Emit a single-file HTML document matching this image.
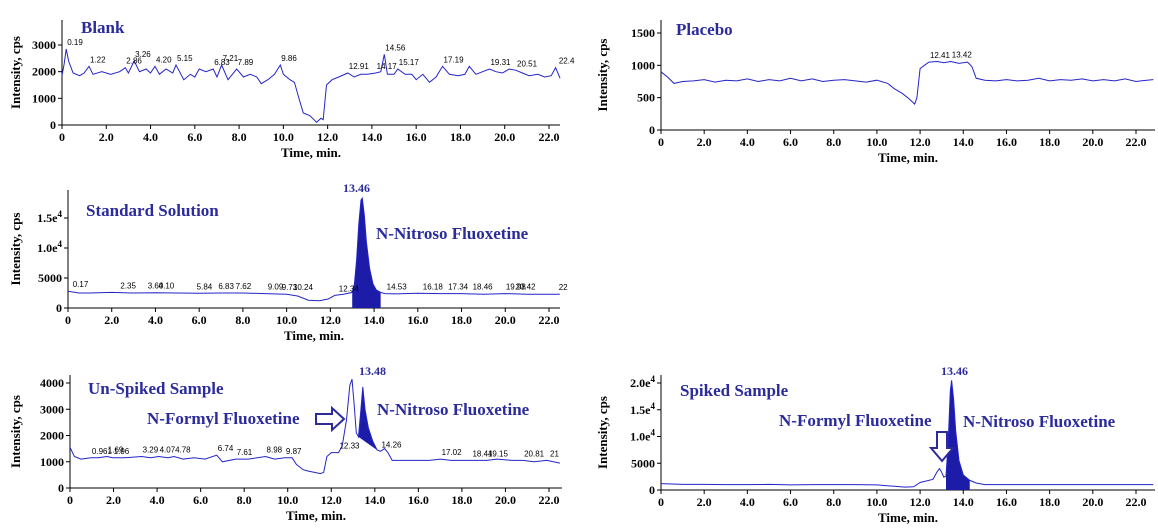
<!DOCTYPE html>
<html><head><meta charset="utf-8"><style>
body{margin:0;background:#fff;}
svg{display:block;}
.tk{font-family:"Liberation Serif",serif;font-weight:bold;font-size:12px;fill:#000;}
.ttl{font-family:"Liberation Serif",serif;font-weight:bold;font-size:13px;fill:#000;}
.nm{font-family:"Liberation Serif",serif;font-weight:bold;font-size:17px;fill:#2b2b9c;}
.pk{font-family:"Liberation Sans",sans-serif;font-size:8px;fill:#000;}
.big{font-family:"Liberation Serif",serif;font-weight:bold;font-size:12px;fill:#2b2b9c;}
</style></head><body>
<svg id="fig" width="1158" height="530" viewBox="0 0 1158 530" xmlns="http://www.w3.org/2000/svg"></svg>
<script>
// ---- data ----
const blankT=[0,0.1,0.19,0.3,0.5,0.8,1.0,1.22,1.4,1.8,2.2,2.6,2.86,3.0,3.26,3.5,3.8,4.0,4.2,4.4,4.7,5.0,5.15,5.5,5.8,6.0,6.2,6.5,6.83,7.0,7.21,7.5,7.89,8.2,8.5,8.8,9.0,9.3,9.6,9.86,10.0,10.3,10.5,10.7,10.9,11.2,11.5,11.7,11.8,11.95,12.2,12.5,12.91,13.2,13.5,13.8,14.17,14.4,14.56,14.7,15.0,15.17,15.5,15.8,16.0,16.3,16.6,16.9,17.19,17.5,17.9,18.2,18.4,18.7,19.0,19.31,19.6,19.9,20.2,20.51,20.8,21.1,21.5,21.8,22.1,22.3,22.5];
const blankV=[1850,2300,2850,2400,1950,1850,1950,2200,1900,2000,1900,2000,2150,1950,2400,2000,2100,1950,2200,1900,2100,1950,2250,1700,1900,1800,2100,2000,2100,1800,2250,1700,2100,1800,1900,1800,1550,1700,1900,2250,1900,1700,1600,1000,450,350,100,250,200,1500,1700,1800,1950,1800,1900,1900,1950,2000,2650,1900,1900,2100,1900,1900,1700,1900,1600,1800,2200,1900,1850,1900,2200,1900,2000,2100,2000,1950,2100,2050,1950,1850,1900,1800,1850,2150,1750];
const blankLblT=[0.19,1.22,2.86,3.26,4.20,5.15,6.83,7.21,7.89,9.86,12.91,14.17,14.56,15.17,17.19,19.31,20.51,22.4];
const blankLbl=["0.19","1.22","2.86","3.26","4.20","5.15","6.83","7.21","7.89","9.86","12.91","14.17","14.56","15.17","17.19","19.31","20.51","22.4"];

const placT=[0,0.3,0.6,1.0,1.5,2.0,2.5,3.0,3.5,4.0,4.5,5.0,5.5,6.0,6.5,7.0,7.5,8.0,8.5,9.0,9.5,10.0,10.5,10.8,11.2,11.5,11.75,11.85,12.0,12.2,12.41,12.8,13.1,13.42,13.8,14.2,14.4,14.6,15.0,15.5,16.0,16.5,17.0,17.5,18.0,18.5,19.0,19.5,20.0,20.5,21.0,21.5,22.0,22.5,22.8];
const placV=[900,820,720,750,760,780,740,770,760,790,750,780,760,800,760,790,750,770,780,760,740,770,720,640,560,480,400,500,950,1000,1050,1060,1040,1060,1030,1050,980,800,770,760,780,760,770,800,760,780,770,790,760,780,760,790,750,770,780];
const placLblT=[12.41,13.42];
const placLbl=["12.41","13.42"];

const stdT=[0,0.5,1,2,3,4,5,6,7,8,9,10,10.5,11,11.5,11.9,12.2,12.6,13.0,13.1,13.2,13.3,13.4,13.46,13.55,13.65,13.8,13.95,14.1,14.3,14.5,15,16,17,18,19,20,21,22,22.5];
const stdV=[2800,2500,2500,2600,2500,2550,2500,2450,2500,2500,2400,2300,2000,1300,1200,1500,2100,2300,2600,4000,8000,14000,18000,18300,15500,11000,6500,4000,3000,2600,2400,2350,2450,2400,2400,2300,2400,2300,2300,2300];
const stdFill=[13.0,14.3];
const stdLblT=[0.17,2.35,3.60,4.10,5.84,6.83,7.62,9.09,9.73,10.24,12.34,14.53,16.18,17.34,18.46,19.98,20.42,22.4];
const stdLbl=["0.17","2.35","3.60","4.10","5.84","6.83","7.62","9.09","9.73","10.24","12.34","14.53","16.18","17.34","18.46","19.98","20.42","22"];

const unT=[0,0.2,0.5,0.96,1.3,1.69,1.96,2.5,3.29,3.7,4.07,4.5,4.78,5.2,5.7,6.2,6.74,7.0,7.61,8.2,8.98,9.4,9.87,10.2,10.4,10.7,10.9,11.2,11.5,11.65,11.8,12.0,12.33,12.5,12.7,12.85,12.95,13.05,13.15,13.25,13.35,13.45,13.55,13.7,13.9,14.1,14.26,14.45,14.6,14.8,15.5,16.5,17.02,17.5,18.44,19.15,19.6,20.3,20.81,21.3,21.9,22.5];
const unV=[1550,1200,1100,1150,1150,1200,1150,1150,1200,1150,1200,1150,1200,1100,1150,1100,1250,1000,1100,1100,1200,1100,1150,1150,900,700,650,600,550,600,1200,1350,1350,1600,2600,3900,4150,3200,2100,1950,2900,3850,3000,2300,1800,1450,1400,1500,1350,1050,1050,1050,1100,1050,1050,1050,1100,1050,1050,1000,1050,950];
const unFill=[13.25,14.1];
const unLblT=[0.961,1.69,1.96,3.29,4.07,4.78,6.74,7.61,8.98,9.87,12.33,14.26,17.02,18.44,19.15,20.81,22.0];
const unLbl=["0.961","1.69","1.96","3.29","4.07","4.78","6.74","7.61","8.98","9.87","12.33","14.26","17.02","18.44","19.15","20.81","21"];

const spT=[0,1,2,3,4,5,6,7,8,9,10,10.8,11.3,11.7,12.0,12.6,12.8,12.9,13.0,13.1,13.2,13.3,13.4,13.46,13.55,13.65,13.8,14.0,14.3,14.6,15,16,17,18,19,20,21,22,22.8];
const spV=[1200,1050,1050,1000,1000,1050,950,1000,1000,1000,950,700,550,600,1400,2000,3500,4000,3300,2400,2600,9000,18500,20500,17000,11000,5500,2800,1800,1300,1000,1000,1000,1000,1000,1000,1000,1000,1000];
const spFill=[13.2,14.3];

// ---- helpers ----
const NS="http://www.w3.org/2000/svg";
const svg=document.getElementById('fig');
function mk(tag,attrs,parent,txt){const e=document.createElementNS(NS,tag);for(const k in attrs)e.setAttribute(k,attrs[k]);if(txt!==undefined)e.textContent=txt;(parent||svg).appendChild(e);return e;}

function panel(c){
  const g=mk('g',{});
  
  
  const X=t=>c.x0+(t/22)*(c.x22-c.x0);
  const Y=v=>c.y0-(v/c.yRef)*(c.y0-c.yRefPx);
  const ax=mk('path',{d:`M${c.x0} ${c.top} V${c.y0} H${c.right}`,stroke:'#000','stroke-width':1,fill:'none'},g);
  
  
  for(let t=0;t<=22;t+=2){
    const x=X(t);
    mk('line',{x1:x,y1:c.y0,x2:x,y2:c.y0+4,stroke:'#000'},g);
    const tx=mk('text',{x:x,y:c.y0+16,'text-anchor':'middle',class:'tk'},g,t===0?'0':t.toFixed(1));
    
    
  }
  c.yt.forEach((v,i)=>{
    const y=Y(v);
    mk('line',{x1:c.x0-4,y1:y,x2:c.x0,y2:y,stroke:'#000'},g);
    const tx=mk('text',{x:c.x0-6,y:y+4,'text-anchor':'end',class:'tk'},g);
    const lab=c.ytl[i];
    if(lab.indexOf('e4')>0){tx.textContent=lab.replace('e4','e');mk('tspan',{dy:-5,'font-size':9},tx,'4');}
    else tx.textContent=lab;
    
    
  });
  const xt=mk('text',{x:(c.x0+c.right)/2,y:c.y0+32,'text-anchor':'middle',class:'ttl'},g,'Time, min.');
  
  
  const yx=c.ytx, yy=(c.top+c.y0)/2;
  const ytt=mk('text',{x:yx,y:yy,'text-anchor':'middle',class:'ttl',transform:`rotate(-90 ${yx} ${yy})`},g,'Intensity, cps');
  
  
  const nm=mk('text',{x:c.nx,y:c.ny,class:'nm'},g,c.title);
  
  
  if(c.fill){
    const [a,b]=c.fill;const pts=[];
    c.T.forEach((t,i)=>{if(t>=a&&t<=b)pts.push([X(t),Y(c.V[i])]);});
    let poly=pts.map(p=>p.join(',')).join(' ');
    if(c.fillBase==='zero'){poly+=` ${pts[pts.length-1][0]},${c.y0} ${pts[0][0]},${c.y0}`;}
    const f=mk('polygon',{points:poly,fill:'#1c1ca8'},g);
    
    
  }
  const d=c.T.map((t,i)=>(i?'L':'M')+X(t).toFixed(1)+' '+Y(c.V[i]).toFixed(1)).join(' ');
  const ln=mk('path',{d:d,stroke:'#2424c8','stroke-width':1,fill:'none'},g);
  
  
  if(c.LT){
    c.LT.forEach((t,i)=>{
      let best=0;c.T.forEach((tt,j)=>{if(Math.abs(tt-t)<Math.abs(c.T[best]-t))best=j;});
      const y=Y(c.V[best])-4;
      const tx=mk('text',{x:X(t)+1,y:y,class:'pk'},g,c.L[i]);
      
      
    });
  }
  return {g,X,Y};
}

panel({name:'blank-panel',x0:62,x22:549,right:560,top:20,y0:125,yRef:3000,yRefPx:45,yt:[0,1000,2000,3000],ytl:['0','1000','2000','3000'],ytx:20,title:'Blank',nx:81,ny:33,T:blankT,V:blankV,LT:blankLblT,L:blankLbl});
panel({name:'placebo-panel',x0:661,x22:1136,right:1155,top:20,y0:130,yRef:1500,yRefPx:33,yt:[0,500,1000,1500],ytl:['0','500','1000','1500'],ytx:607,title:'Placebo',nx:676,ny:35,T:placT,V:placV,LT:placLblT,L:placLbl});
panel({name:'standard-panel',x0:68,x22:549,right:560,top:190,y0:308,yRef:15000,yRefPx:218,yt:[0,5000,10000,15000],ytl:['0','5000','1.0e4','1.5e4'],ytx:20,title:'Standard Solution',nx:86,ny:216,T:stdT,V:stdV,LT:stdLblT,L:stdLbl,fill:stdFill,fillBase:'zero'});
panel({name:'unspiked-panel',x0:70,x22:549,right:562,top:375,y0:488,yRef:4000,yRefPx:383,yt:[0,1000,2000,3000,4000],ytl:['0','1000','2000','3000','4000'],ytx:20,title:'Un-Spiked Sample',nx:88,ny:394,T:unT,V:unV,LT:unLblT,L:unLbl,fill:unFill,fillBase:'line'});
panel({name:'spiked-panel',x0:661,x22:1136,right:1155,top:375,y0:490,yRef:20000,yRefPx:383,yt:[0,5000,10000,15000,20000],ytl:['0','5000','1.0e4','1.5e4','2.0e4'],ytx:607,title:'Spiked Sample',nx:680,ny:396,T:spT,V:spV,fill:spFill,fillBase:'zero'});

function txt(x,y,cls,t,name){const e=mk('text',{x:x,y:y,class:cls},svg,t);return e;}
txt(343,192,'big','13.46','peak-rt-label');
txt(376,239,'nm','N-Nitroso Fluoxetine','compound-label');
txt(359,375,'big','13.48','peak-rt-label');
txt(377,415,'nm','N-Nitroso Fluoxetine','compound-label');
txt(147,424,'nm','N-Formyl Fluoxetine','compound-label');
txt(941,375,'big','13.46','peak-rt-label');
txt(963,427,'nm','N-Nitroso Fluoxetine','compound-label');
txt(779,426,'nm','N-Formyl Fluoxetine','compound-label');
const a1=mk('path',{d:'M316 414 h16 v-6 l12 11 l-12 11 v-6 h-16 z',fill:'#fff',stroke:'#2b2b9c','stroke-width':2});


const a2=mk('path',{d:'M937 432 v16 h-6 l11 13 l11 -13 h-6 v-16 z',fill:'#fff',stroke:'#2b2b9c','stroke-width':2});


</script>
</body></html>
